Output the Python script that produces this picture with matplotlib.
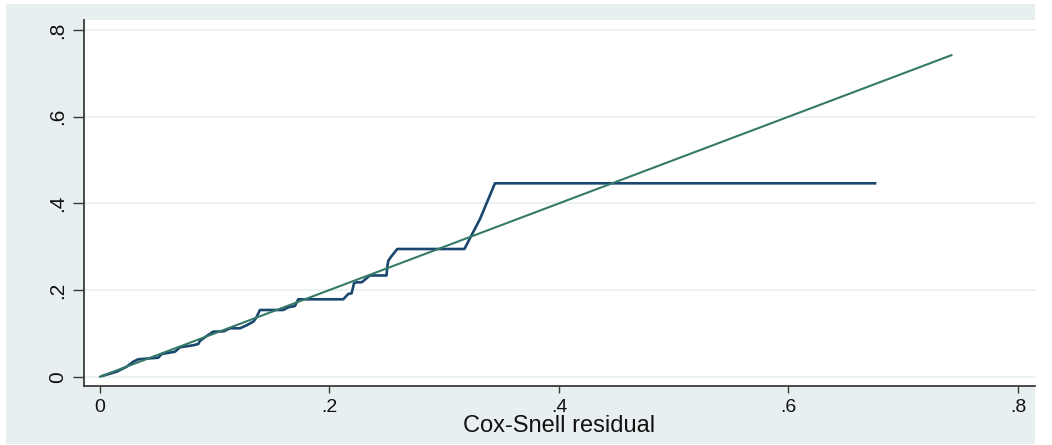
import matplotlib
matplotlib.use("Agg")
import matplotlib.pyplot as plt
from matplotlib.patches import Rectangle

plt.rcParams['font.family'] = ['Liberation Sans', 'DejaVu Sans']

# Nelson-Aalen cumulative hazard vs Cox-Snell residual
cs_resid = [0.002, 0.0146, 0.0233, 0.029, 0.0334, 0.0508, 0.0538, 0.0654, 0.0697,
            0.0813, 0.0857, 0.0871, 0.093, 0.0987, 0.108, 0.1133, 0.122, 0.1278,
            0.1336, 0.1359, 0.1394, 0.1597, 0.1641, 0.1699, 0.1728, 0.212, 0.2164,
            0.2193, 0.2214, 0.2237, 0.2281, 0.2353, 0.2497, 0.2504, 0.2513, 0.2542,
            0.2591, 0.3176, 0.3239, 0.3312, 0.3442, 0.6754]
cum_hazard = [0.0016, 0.0115, 0.0231, 0.0346, 0.0402, 0.0438, 0.0524, 0.0577, 0.0679,
              0.0725, 0.0755, 0.0824, 0.0939, 0.1039, 0.1048, 0.1117, 0.1117, 0.1186,
              0.1269, 0.1348, 0.1539, 0.1539, 0.1602, 0.1632, 0.1786, 0.1786, 0.1909,
              0.1925, 0.2156, 0.2179, 0.2179, 0.2336, 0.2336, 0.2539, 0.2677, 0.2786,
              0.2947, 0.2947, 0.327, 0.364, 0.4463, 0.4463]
ref_x = [0.0, 0.742]
ref_y = [0.0, 0.742]

x_ticks = [0, 0.2, 0.4, 0.6, 0.8]
x_labels = ["0", ".2", ".4", ".6", ".8"]
y_ticks = [0, 0.2, 0.4, 0.6, 0.8]
y_labels = ["0", ".2", ".4", ".6", ".8"]
x_title = "Cox-Snell residual"

W, H = 1052, 445
fig = plt.figure(figsize=(W / 100, H / 100), dpi=100, facecolor='white')
bg = '#e8eff1'
fig.patches.append(Rectangle((6 / W, 1 - 444 / H), (1035 - 6) / W, (444 - 4) / H,
                             transform=fig.transFigure, facecolor=bg, edgecolor='none', zorder=-5))

left, right, top, bottom = 84, 1035, 20, 386
ax = fig.add_axes([left / W, 1 - bottom / H, (right - left) / W, (bottom - top) / H])
ax.set_zorder(2)
ax.set_facecolor('white')

ax.set_xlim(-0.0139, 0.8148)
ax.set_ylim(-0.0215, 0.8232)

for yv in y_ticks:
    ax.axhline(yv, color='#eaf2f3', lw=1.5, zorder=1)

ax.plot(cs_resid, cum_hazard, color='#1a476f', lw=1.9, zorder=3, solid_joinstyle='round')
ax.plot(ref_x, ref_y, color='#357a68', lw=1.5, zorder=4)

ax.set_xticks(x_ticks)
ax.set_xticklabels(x_labels)
ax.set_yticks(y_ticks)
ax.set_yticklabels(y_labels, rotation=90, va='center')

for s in ['top', 'right']:
    ax.spines[s].set_visible(False)
for s in ['left', 'bottom']:
    ax.spines[s].set_color('#3a3a3a')
    ax.spines[s].set_linewidth(1.3)

ax.tick_params(axis='x', length=5, width=1.0, color='#3a3a3a', labelsize=14, pad=4, labelcolor='#111111')
ax.tick_params(axis='y', length=8, width=1.0, color='#3a3a3a', labelsize=15, pad=4, labelcolor='#111111')

ax.set_xlabel(x_title, fontsize=17, labelpad=0, color='#111111')

fig.savefig('out.png', dpi=100, facecolor='white')
